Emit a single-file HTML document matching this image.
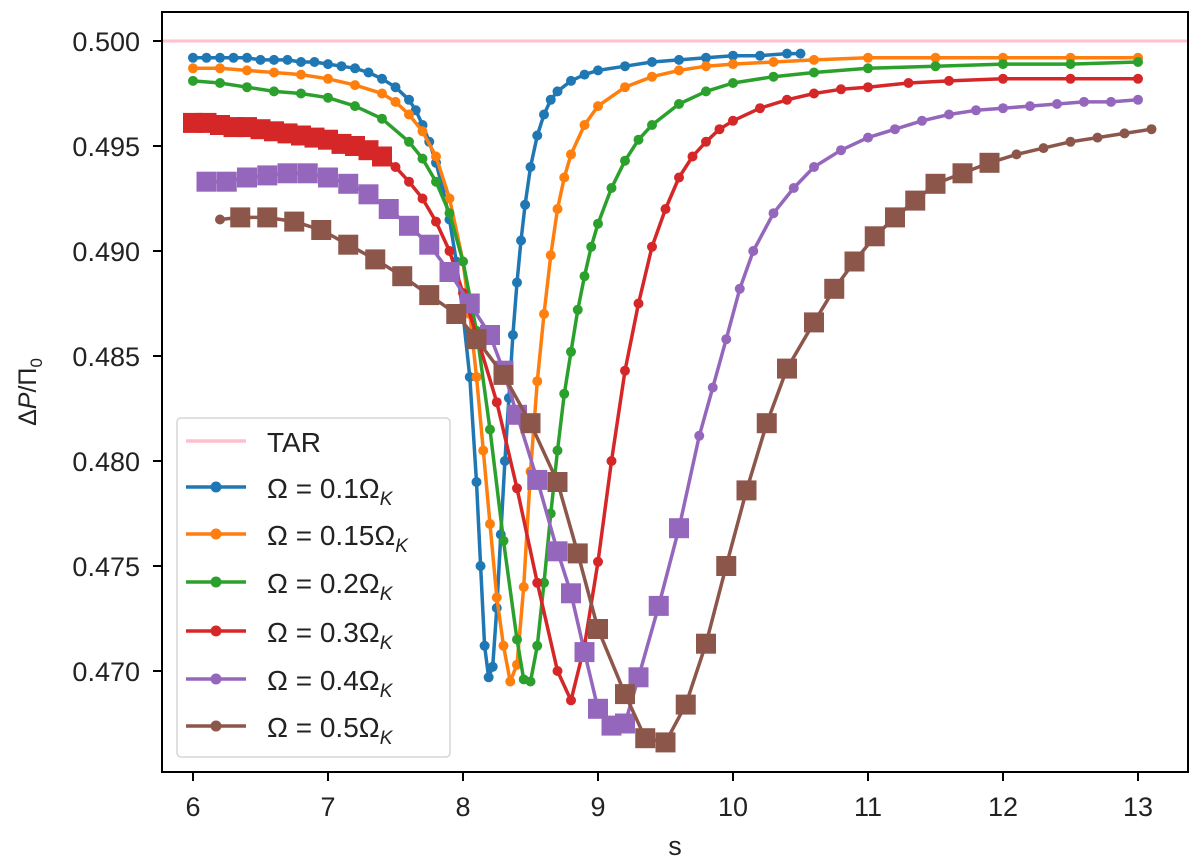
<!DOCTYPE html>
<html><head><meta charset="utf-8"><style>
html,body{margin:0;padding:0;background:#fff;}
svg{display:block;font-family:"Liberation Sans","DejaVu Sans",sans-serif;}
</style></head><body>
<svg id="chart" width="1200" height="859" viewBox="0 0 1200 859" xmlns="http://www.w3.org/2000/svg">
<g id="plot"></g>
<g id="axes"></g>
<g id="legend"></g>
</svg>
<script>
const xTicks=[6,7,8,9,10,11,12,13];
const yTicks=[0.470,0.475,0.480,0.485,0.490,0.495,0.500];
const yTickLabels=["0.470","0.475","0.480","0.485","0.490","0.495","0.500"];
const tarValue=0.5;
const seriesNames=["Ω = 0.1Ω","Ω = 0.15Ω","Ω = 0.2Ω","Ω = 0.3Ω","Ω = 0.4Ω","Ω = 0.5Ω"];
const s1x=[6.0,6.1,6.2,6.3,6.4,6.5,6.6,6.7,6.8,6.9,7.0,7.1,7.2,7.3,7.4,7.5,7.6,7.65,7.7,7.75,7.8,7.85,7.9,7.95,8.0,8.05,8.1,8.13,8.16,8.19,8.22,8.25,8.28,8.31,8.34,8.37,8.4,8.43,8.46,8.5,8.55,8.6,8.65,8.7,8.8,8.9,9.0,9.2,9.4,9.6,9.8,10.0,10.2,10.4,10.5];
const s1y=[0.4992,0.4992,0.4992,0.4992,0.4992,0.4991,0.4991,0.4991,0.4990,0.4990,0.4989,0.4988,0.4987,0.4985,0.4982,0.4978,0.4972,0.4967,0.4960,0.4952,0.4942,0.4930,0.4915,0.4895,0.4870,0.4840,0.4790,0.4750,0.4712,0.4697,0.4702,0.4730,0.4765,0.4800,0.4830,0.4860,0.4885,0.4905,0.4922,0.4940,0.4955,0.4965,0.4972,0.4976,0.4981,0.4984,0.4986,0.4988,0.4990,0.4991,0.4992,0.4993,0.4993,0.4994,0.4994];
const s2x=[6.0,6.2,6.4,6.6,6.8,7.0,7.2,7.4,7.5,7.6,7.7,7.8,7.9,8.0,8.05,8.1,8.15,8.2,8.25,8.3,8.35,8.4,8.45,8.5,8.55,8.6,8.65,8.7,8.75,8.8,8.9,9.0,9.2,9.4,9.6,9.8,10.0,10.3,10.6,11.0,11.5,12.0,12.5,13.0];
const s2y=[0.4987,0.4987,0.4986,0.4985,0.4984,0.4982,0.4979,0.4975,0.4971,0.4965,0.4957,0.4945,0.4925,0.4895,0.4870,0.4840,0.4805,0.4770,0.4735,0.4712,0.4695,0.4703,0.4740,0.4795,0.4838,0.4870,0.4898,0.4920,0.4935,0.4946,0.4960,0.4969,0.4978,0.4983,0.4986,0.4988,0.4989,0.4990,0.4991,0.4992,0.4992,0.4992,0.4992,0.4992];
const s3x=[6.0,6.2,6.4,6.6,6.8,7.0,7.2,7.4,7.6,7.7,7.8,7.9,8.0,8.1,8.2,8.3,8.4,8.45,8.5,8.55,8.6,8.65,8.7,8.75,8.8,8.85,8.9,8.95,9.0,9.1,9.2,9.3,9.4,9.6,9.8,10.0,10.3,10.6,11.0,11.5,12.0,12.5,13.0];
const s3y=[0.4981,0.4980,0.4978,0.4976,0.4975,0.4973,0.4969,0.4963,0.4952,0.4944,0.4933,0.4918,0.4895,0.4862,0.4815,0.4762,0.4715,0.4696,0.4695,0.4712,0.4742,0.4775,0.4805,0.4832,0.4852,0.4872,0.4888,0.4902,0.4913,0.4930,0.4943,0.4953,0.4960,0.4970,0.4976,0.4980,0.4983,0.4985,0.4987,0.4988,0.4989,0.4989,0.4990];
const s4x=[6.0,6.1,6.2,6.3,6.4,6.5,6.6,6.7,6.8,6.9,7.0,7.1,7.2,7.3,7.4,7.5,7.6,7.7,7.8,7.9,8.0,8.1,8.25,8.4,8.55,8.7,8.8,8.9,9.0,9.1,9.2,9.3,9.4,9.5,9.6,9.7,9.8,9.9,10.0,10.2,10.4,10.6,10.8,11.0,11.3,11.6,12.0,12.5,13.0];
const s4y=[0.4961,0.4961,0.4960,0.4959,0.4959,0.4958,0.4957,0.4956,0.4955,0.4954,0.4953,0.4951,0.4950,0.4948,0.4945,0.4940,0.4933,0.4925,0.4914,0.4900,0.4880,0.4860,0.4828,0.4787,0.4742,0.4700,0.4686,0.4712,0.4752,0.4800,0.4843,0.4875,0.4902,0.4920,0.4935,0.4945,0.4952,0.4958,0.4962,0.4968,0.4972,0.4975,0.4977,0.4978,0.4980,0.4981,0.4982,0.4982,0.4982];
const s5x=[6.1,6.25,6.4,6.55,6.7,6.85,7.0,7.15,7.3,7.45,7.6,7.75,7.9,8.05,8.2,8.3,8.4,8.55,8.7,8.8,8.9,9.0,9.1,9.2,9.3,9.45,9.6,9.75,9.85,9.95,10.05,10.15,10.3,10.45,10.6,10.8,11.0,11.2,11.4,11.6,11.8,12.0,12.2,12.4,12.6,12.8,13.0];
const s5y=[0.4933,0.4933,0.4935,0.4936,0.4937,0.4937,0.4935,0.4932,0.4927,0.4920,0.4912,0.4903,0.4890,0.4875,0.4860,0.4843,0.4822,0.4791,0.4757,0.4737,0.4709,0.4682,0.4674,0.4675,0.4697,0.4731,0.4768,0.4812,0.4835,0.4858,0.4882,0.4900,0.4918,0.4930,0.4940,0.4948,0.4954,0.4958,0.4962,0.4965,0.4967,0.4968,0.4969,0.4970,0.4971,0.4971,0.4972];
const s6x=[6.2,6.35,6.55,6.75,6.95,7.15,7.35,7.55,7.75,7.95,8.1,8.3,8.5,8.7,8.85,9.0,9.2,9.35,9.5,9.65,9.8,9.95,10.1,10.25,10.4,10.6,10.75,10.9,11.05,11.2,11.35,11.5,11.7,11.9,12.1,12.3,12.5,12.7,12.9,13.1];
const s6y=[0.4915,0.4916,0.4916,0.4914,0.4910,0.4903,0.4896,0.4888,0.4879,0.4870,0.4858,0.4841,0.4818,0.4790,0.4756,0.4720,0.4689,0.4668,0.4666,0.4684,0.4713,0.4750,0.4786,0.4818,0.4844,0.4866,0.4882,0.4895,0.4907,0.4916,0.4924,0.4932,0.4937,0.4942,0.4946,0.4949,0.4952,0.4954,0.4956,0.4958];
const seriesX=[s1x,s2x,s3x,s4x,s5x,s6x];
const seriesY=[s1y,s2y,s3y,s4y,s5y,s6y];
const colors=["#1f77b4","#ff7f0e","#2ca02c","#d62728","#9467bd","#8c564b"];
const squareRange=[null,null,null,[6.0,7.45],[6.0,9.7],[6.3,12.0]];

const L=162,R=1188,B=772,T=12;
const X0=6,XPX0=193,XS=135;
const Y0=0.5,YPX0=41,YS=21000;
function xs(v){return XPX0+(v-X0)*XS;}
function ys(v){return YPX0+(Y0-v)*YS;}
const NS="http://www.w3.org/2000/svg";
function mk(tag,attrs,parent){const e=document.createElementNS(NS,tag);for(const k in attrs)e.setAttribute(k,attrs[k]);parent.appendChild(e);return e;}
const plot=document.getElementById('plot'),axes=document.getElementById('axes'),legend=document.getElementById('legend');

const tar=mk('line',{x1:L,x2:R,y1:ys(tarValue),y2:ys(tarValue),stroke:'#ffc0cb','stroke-width':3},plot);



seriesX.forEach((xa,i)=>{
  const g=mk('g',{},plot);
  
  
  const pts=xa.map((x,j)=>xs(x).toFixed(1)+','+ys(seriesY[i][j]).toFixed(1)).join(' ');
  const pl=mk('polyline',{points:pts,fill:'none',stroke:colors[i],'stroke-width':3.5,'stroke-linejoin':'round'},g);
  
  
  xa.forEach((x,j)=>{
    const cx=xs(x),cy=ys(seriesY[i][j]);const r=squareRange[i];
    let m;
    if(r&&x>=r[0]&&x<=r[1]){m=mk('rect',{x:cx-10,y:cy-10,width:20,height:20,fill:colors[i]},g);}
    else{m=mk('circle',{cx:cx,cy:cy,r:5,fill:colors[i]},g);}
    
    
  });
});

const frame=mk('rect',{x:L,y:T,width:R-L,height:B-T,fill:'none',stroke:'#000','stroke-width':2},axes);


xTicks.forEach(v=>{
  const tk=mk('line',{x1:xs(v),x2:xs(v),y1:B,y2:B+9,stroke:'#000','stroke-width':2},axes);
  
  
  const t=mk('text',{x:xs(v),y:B+44,'font-size':27,'text-anchor':'middle',fill:'#222'},axes);t.textContent=v;
  
  
});
yTicks.forEach((v,i)=>{
  const tk=mk('line',{x1:L-9,x2:L,y1:ys(v),y2:ys(v),stroke:'#000','stroke-width':2},axes);
  
  
  const t=mk('text',{x:L-22,y:ys(v)+10,'font-size':27,'text-anchor':'end',fill:'#222'},axes);t.textContent=yTickLabels[i];
  
  
});
const xl=mk('text',{x:(L+R)/2,y:855,'font-size':27,'text-anchor':'middle',fill:'#222'},axes);xl.textContent='s';


const yl=mk('text',{x:0,y:0,'font-size':25,'text-anchor':'middle',fill:'#222',transform:'translate(36,392) rotate(-90)'},axes);
yl.innerHTML='Δ<tspan font-style="italic">P</tspan>/Π<tspan font-size="17" dy="6">0</tspan>';



const lb=mk('rect',{x:177,y:418,width:273,height:339,rx:4,fill:'#fff','fill-opacity':0.85,stroke:'#d6d6d6','stroke-width':1.5},legend);


const ly=[441,487,534,582,631,679,726];
const e0=mk('g',{},legend);


mk('line',{x1:186,x2:246,y1:ly[0],y2:ly[0],stroke:'#ffc0cb','stroke-width':3.5},e0);
const t0=mk('text',{x:267,y:ly[0]+11,'font-size':28,fill:'#222'},e0);t0.textContent='TAR';
seriesNames.forEach((n,i)=>{
  const g=mk('g',{},legend);
  
  
  const y=ly[i+1];
  mk('line',{x1:186,x2:246,y1:y,y2:y,stroke:colors[i],'stroke-width':3.5},g);
  mk('circle',{cx:216,cy:y,r:5.5,fill:colors[i]},g);
  const t=mk('text',{x:267,y:y+11,'font-size':28,fill:'#222'},g);
  t.innerHTML=n+'<tspan font-size="19" font-style="italic" dy="7">K</tspan>';
});
</script>
</body></html>
